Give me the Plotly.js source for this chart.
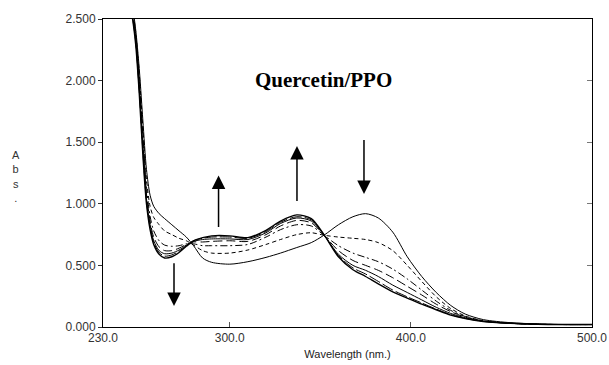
<!DOCTYPE html>
<html>
<head>
<meta charset="utf-8">
<script src="https://cdn.plot.ly/plotly-3.0.1.min.js"></script>
<style>html,body{margin:0;padding:0;background:#fff;}#chart{width:609px;height:365px;}</style>
</head>
<body>
<div id="chart"></div>
<script>
// Wavelength (nm)
const wavelength = [232, 240, 246, 248, 250, 252, 254, 256, 258, 261, 264, 268, 272, 276, 280, 285, 290, 300, 310, 320, 328, 337, 345, 352, 360, 368, 375, 382, 390, 398, 406, 414, 422, 430, 440, 455, 470, 485, 500];

// Absorbance spectra over time (initial -> final)
const scan1 = [3.3, 2.95, 2.62, 2.42, 2.1, 1.68, 1.28, 1.07, 0.98, 0.92, 0.88, 0.83, 0.78, 0.73, 0.66, 0.56, 0.525, 0.51, 0.53, 0.565, 0.60, 0.645, 0.685, 0.745, 0.83, 0.895, 0.92, 0.885, 0.77, 0.57, 0.41, 0.28, 0.175, 0.105, 0.06, 0.035, 0.025, 0.02, 0.02];
const scan2 = [3.3, 2.95, 2.6, 2.4, 2.06, 1.62, 1.2, 0.98, 0.89, 0.83, 0.78, 0.75, 0.72, 0.70, 0.665, 0.62, 0.60, 0.60, 0.625, 0.67, 0.71, 0.75, 0.765, 0.745, 0.73, 0.72, 0.71, 0.685, 0.62, 0.50, 0.37, 0.245, 0.15, 0.09, 0.05, 0.03, 0.022, 0.02, 0.02];
const scan3 = [3.3, 2.95, 2.58, 2.38, 2.02, 1.56, 1.14, 0.9, 0.78, 0.7, 0.665, 0.655, 0.66, 0.675, 0.675, 0.66, 0.66, 0.66, 0.67, 0.73, 0.79, 0.83, 0.82, 0.745, 0.66, 0.60, 0.565, 0.53, 0.47, 0.39, 0.30, 0.21, 0.135, 0.085, 0.05, 0.03, 0.022, 0.02, 0.02];
const scan4 = [3.3, 2.95, 2.56, 2.36, 1.98, 1.5, 1.08, 0.86, 0.73, 0.65, 0.62, 0.62, 0.64, 0.67, 0.69, 0.69, 0.695, 0.70, 0.695, 0.75, 0.82, 0.865, 0.845, 0.745, 0.62, 0.54, 0.50, 0.46, 0.40, 0.33, 0.26, 0.185, 0.125, 0.08, 0.048, 0.03, 0.022, 0.02, 0.02];
const scan5 = [3.3, 2.95, 2.55, 2.34, 1.95, 1.46, 1.04, 0.83, 0.70, 0.62, 0.595, 0.60, 0.625, 0.665, 0.695, 0.71, 0.715, 0.715, 0.71, 0.765, 0.84, 0.885, 0.86, 0.745, 0.59, 0.50, 0.46, 0.41, 0.34, 0.28, 0.22, 0.16, 0.11, 0.075, 0.046, 0.03, 0.022, 0.02, 0.02];
const scan6 = [3.3, 2.95, 2.54, 2.32, 1.92, 1.43, 1.02, 0.81, 0.685, 0.605, 0.575, 0.585, 0.615, 0.66, 0.70, 0.72, 0.73, 0.73, 0.72, 0.775, 0.85, 0.895, 0.87, 0.75, 0.58, 0.48, 0.43, 0.37, 0.30, 0.245, 0.195, 0.145, 0.10, 0.07, 0.045, 0.03, 0.022, 0.02, 0.02];
const scan7 = [3.3, 2.95, 2.53, 2.3, 1.9, 1.4, 1.0, 0.79, 0.67, 0.59, 0.56, 0.57, 0.605, 0.655, 0.70, 0.725, 0.74, 0.74, 0.725, 0.785, 0.86, 0.91, 0.88, 0.75, 0.57, 0.465, 0.41, 0.35, 0.285, 0.235, 0.185, 0.14, 0.097, 0.068, 0.044, 0.03, 0.022, 0.02, 0.02];

const scans = [scan1, scan2, scan3, scan4, scan5, scan6, scan7];
const xTicks = [230, 300, 400, 500];
const yTicks = [0, 0.5, 1.0, 1.5, 2.0, 2.5];

const dashes = ['solid', '4px,3px', '7px,3px,2px,3px', '9px,4px', 'solid', '12px,3px', 'solid'];
const widths = [1, 1, 1, 1, 1, 1, 1.4];

const traces = scans.map((s, i) => ({
  x: wavelength, y: s, type: 'scatter', mode: 'lines',
  line: {color: '#000', width: widths[i], dash: dashes[i], shape: 'spline', smoothing: 0.8},
  hoverinfo: 'skip', showlegend: false
}));
// carrier for the right-hand mirrored tick axis
traces.push({x: wavelength, y: scan7, yaxis: 'y2', type: 'scatter', mode: 'lines',
  line: {width: 0, color: 'rgba(0,0,0,0)'}, hoverinfo: 'skip', showlegend: false});

const tickFont = {family: 'Liberation Sans, Arial, sans-serif', size: 12, color: '#333'};

const arrow = (x, tipY, tailY) => ({
  x: x, y: tipY, ax: x, ay: tailY, xref: 'x', yref: 'y', axref: 'x', ayref: 'y',
  text: '', showarrow: true, arrowhead: 2, arrowsize: 1.8, arrowwidth: 1.5, arrowcolor: '#000'
});

const layout = {
  width: 609, height: 365,
  margin: {l: 103, r: 17, t: 19, b: 38},
  paper_bgcolor: '#fff', plot_bgcolor: '#fff',
  xaxis: {
    range: [230, 500], tickvals: xTicks, tickformat: '.1f',
    ticks: 'inside', ticklen: 5, tickcolor: '#555',
    showline: true, linecolor: '#000', linewidth: 1, mirror: true,
    showgrid: false, zeroline: false, tickfont: tickFont,
    title: {text: 'Wavelength (nm.)', font: {family: 'Liberation Sans, Arial, sans-serif', size: 11, color: '#222'}, standoff: 5}
  },
  yaxis: {
    range: [0, 2.5], tickvals: yTicks, tickformat: '.3f',
    ticks: 'outside', ticklen: 4, tickcolor: '#333',
    showline: true, linecolor: '#000', linewidth: 1, mirror: true,
    showgrid: false, zeroline: false, tickfont: tickFont
  },
  yaxis2: {
    range: [0, 2.5], overlaying: 'y', side: 'right', tickvals: [0.5, 1.0, 1.5, 2.0],
    ticks: 'inside', ticklen: 5, tickcolor: '#777', showticklabels: false,
    showline: false, showgrid: false, zeroline: false
  },
  annotations: [
    {text: 'Quercetin/PPO', xref: 'paper', yref: 'paper', x: 0.45, y: 0.848, showarrow: false,
     font: {family: 'Liberation Serif, Times New Roman, serif', size: 21, color: '#000', weight: 'bold'}},
    {text: 'A<br>b<br>s<br>.', xref: 'paper', yref: 'paper', x: -0.177, y: 0.49, showarrow: false,
     xanchor: 'center', yanchor: 'middle',
     font: {family: 'Liberation Sans, Arial, sans-serif', size: 11, color: '#333'}},
    arrow(269.2, 0.17, 0.53),
    arrow(293.8, 1.23, 0.80),
    arrow(337.1, 1.47, 1.01),
    arrow(374.1, 1.08, 1.53)
  ]
};

Plotly.newPlot('chart', traces, layout, {staticPlot: true, displayModeBar: false});
</script>
</body>
</html>
